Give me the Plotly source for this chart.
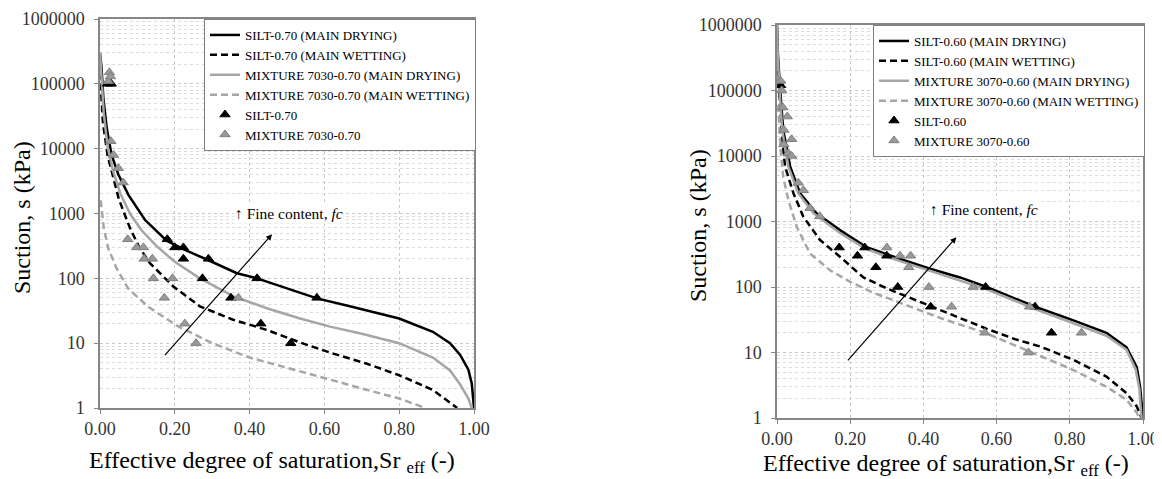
import numpy as np
import plotly.graph_objects as go

FONT = "Liberation Serif, Times New Roman, serif"
BLACK = "#000000"
GRAY = "#a6a6a6"

# ---- left chart: SILT-0.70 / MIXTURE 7030-0.70 ----
SILT70_DRY_SR = [0.0, 0.004, 0.009, 0.018, 0.031, 0.049, 0.076, 0.12, 0.178, 0.23, 0.29, 0.366,
                 0.42, 0.50, 0.58, 0.668, 0.80, 0.89, 0.936, 0.963, 0.985, 0.994, 0.998, 1.0]
SILT70_DRY_S = [300000, 180000, 60000, 20800, 8000, 4000, 1940, 800, 380, 270, 190, 120,
                100, 70, 49, 37, 24, 15, 10, 6.6, 3.9, 2.4, 1.5, 1.0]

SILT70_WET_SR = [0.0, 0.008, 0.02, 0.035, 0.05, 0.065, 0.08, 0.105, 0.134, 0.196, 0.267, 0.356,
                 0.446, 0.53, 0.62, 0.71, 0.80, 0.89, 0.955]
SILT70_WET_S = [150000, 25000, 8000, 3500, 1700, 1000, 600, 300, 170, 75, 37, 23,
                16, 10.5, 7, 4.9, 3.2, 1.9, 1.0]

MIX7030_DRY_SR = [0.0, 0.004, 0.01, 0.02, 0.035, 0.055, 0.08, 0.11, 0.15, 0.20, 0.267, 0.36,
                  0.45, 0.535, 0.615, 0.70, 0.80, 0.89, 0.936, 0.963, 0.985, 0.994]
MIX7030_DRY_S = [300000, 110000, 35000, 11000, 4500, 2000, 1000, 560, 320, 180, 100, 52,
                 34, 24, 18, 14, 10, 6, 3.8, 2.3, 1.4, 1.0]

MIX7030_WET_SR = [0.002, 0.01, 0.022, 0.045, 0.075, 0.13, 0.21, 0.30, 0.40, 0.50, 0.60, 0.70, 0.80, 0.87]
MIX7030_WET_S = [1600, 600, 290, 140, 70, 36, 18, 10, 6, 4.2, 2.9, 2.0, 1.4, 1.0]

SILT70_PTS_SR = [0.02, 0.03, 0.18, 0.20, 0.223, 0.223, 0.29, 0.274, 0.42, 0.35, 0.58, 0.43, 0.51]
SILT70_PTS_S = [100000, 100000, 400, 300, 300, 200, 200, 100, 100, 50, 50, 20, 10]

MIX7030_PTS_SR = [0.022, 0.025, 0.028, 0.029, 0.036, 0.049, 0.062, 0.074, 0.098, 0.116, 0.118,
                  0.14, 0.143, 0.194, 0.172, 0.37, 0.227, 0.257]
MIX7030_PTS_S = [110000, 150000, 130000, 13000, 8000, 5000, 3000, 400, 300, 300, 200,
                 200, 100, 100, 50, 50, 20, 10]

# ---- right chart: SILT-0.60 / MIXTURE 3070-0.60 ----
SILT60_DRY_SR = [0.0, 0.002, 0.008, 0.017, 0.036, 0.063, 0.108, 0.175, 0.243, 0.304, 0.345, 0.418,
                 0.50, 0.573, 0.64, 0.705, 0.81, 0.90, 0.955, 0.983, 0.992, 0.997, 1.0]
SILT60_DRY_S = [1000000, 400000, 114000, 25000, 6900, 2700, 1330, 720, 410, 307, 258, 190,
                140, 100, 70, 50, 31, 20, 12, 6, 3, 1.5, 1.0]

SILT60_WET_SR = [0.003, 0.012, 0.022, 0.045, 0.072, 0.117, 0.172, 0.236, 0.30, 0.345, 0.427,
                 0.50, 0.573, 0.65, 0.72, 0.81, 0.90, 0.955, 0.983, 0.996]
SILT60_WET_S = [200000, 25000, 6900, 2700, 1180, 525, 290, 140, 95, 75, 50,
                34, 23, 16, 12.3, 7.7, 4.3, 2.4, 1.5, 1.0]

MIX3070_DRY_SR = [0.0, 0.002, 0.007, 0.014, 0.031, 0.058, 0.10, 0.17, 0.24, 0.30, 0.345, 0.418,
                  0.50, 0.573, 0.64, 0.705, 0.81, 0.90, 0.955, 0.98, 0.99, 0.996]
MIX3070_DRY_S = [1000000, 350000, 100000, 25000, 6900, 2700, 1330, 680, 390, 290, 240, 175,
                 125, 92, 65, 46, 28, 18, 11, 5.5, 2.8, 1.0]

MIX3070_WET_SR = [0.003, 0.01, 0.017, 0.031, 0.054, 0.09, 0.145, 0.20, 0.263, 0.354, 0.45,
                  0.568, 0.687, 0.81, 0.90, 0.955, 0.983, 0.99]
MIX3070_WET_S = [60000, 12000, 4800, 2130, 830, 325, 180, 120, 82, 52, 33,
                 20, 10.5, 5.4, 3.0, 1.9, 1.2, 1.0]

SILT60_PTS_SR = [0.01, 0.17, 0.22, 0.24, 0.30, 0.27, 0.33, 0.42, 0.57, 0.705, 0.75]
SILT60_PTS_S = [120000, 400, 300, 400, 300, 200, 100, 50, 100, 50, 20]

MIX3070_PTS_SR = [0.0, 0.01, 0.013, 0.016, 0.028, 0.019, 0.04, 0.019, 0.031, 0.04, 0.058, 0.072,
                  0.09, 0.117, 0.30, 0.336, 0.365, 0.36, 0.415, 0.536, 0.477, 0.69, 0.568, 0.687, 0.832]
MIX3070_PTS_S = [150000, 140000, 100000, 55000, 40000, 25000, 18000, 15000, 11000, 10000, 3900, 3000,
                 1600, 1200, 400, 300, 300, 200, 100, 100, 50, 50, 20, 10, 20]

X_TICKS = [0.0, 0.2, 0.4, 0.6, 0.8, 1.0]
Y_TICKS = [1, 10, 100, 1000, 10000, 100000, 1000000]
Y_MINOR = [m * 10 ** k for k in range(6) for m in range(2, 10)]

# the page body has an 8px margin, so the figure is drawn 8px smaller and everything shifted
PAD = 8
W, H = 1162 - PAD, 479 - PAD


def px(x):
    return (x - PAD) / W


def py(y):
    return 1 - (y - PAD) / H


fig = go.Figure()


def add_curve(x, y, name, color, dash, xa, ya, legend):
    fig.add_trace(go.Scatter(x=x, y=y, mode="lines", name=name, xaxis=xa, yaxis=ya, legend=legend,
                             line=dict(color=color, width=2.5, dash=dash)))


def add_points(x, y, name, color, edge, xa, ya, legend):
    fig.add_trace(go.Scatter(x=x, y=y, mode="markers", name=name, xaxis=xa, yaxis=ya, legend=legend,
                             marker=dict(symbol="triangle-up", size=9, color=color,
                                         line=dict(color=edge, width=1))))


DASH = "7px,4px"
add_curve(SILT70_DRY_SR, SILT70_DRY_S, "SILT-0.70 (MAIN DRYING)", BLACK, "solid", "x", "y", "legend")
add_curve(SILT70_WET_SR, SILT70_WET_S, "SILT-0.70 (MAIN WETTING)", BLACK, DASH, "x", "y", "legend")
add_curve(MIX7030_DRY_SR, MIX7030_DRY_S, "MIXTURE 7030-0.70 (MAIN DRYING)", GRAY, "solid", "x", "y", "legend")
add_curve(MIX7030_WET_SR, MIX7030_WET_S, "MIXTURE 7030-0.70 (MAIN WETTING)", GRAY, DASH, "x", "y", "legend")
add_points(SILT70_PTS_SR, SILT70_PTS_S, "SILT-0.70", BLACK, BLACK, "x", "y", "legend")
add_points(MIX7030_PTS_SR, MIX7030_PTS_S, "MIXTURE 7030-0.70", "#999999", "#7f7f7f", "x", "y", "legend")

add_curve(SILT60_DRY_SR, SILT60_DRY_S, "SILT-0.60 (MAIN DRYING)", BLACK, "solid", "x2", "y2", "legend2")
add_curve(SILT60_WET_SR, SILT60_WET_S, "SILT-0.60 (MAIN WETTING)", BLACK, DASH, "x2", "y2", "legend2")
add_curve(MIX3070_DRY_SR, MIX3070_DRY_S, "MIXTURE 3070-0.60 (MAIN DRYING)", GRAY, "solid", "x2", "y2", "legend2")
add_curve(MIX3070_WET_SR, MIX3070_WET_S, "MIXTURE 3070-0.60 (MAIN WETTING)", GRAY, DASH, "x2", "y2", "legend2")
add_points(SILT60_PTS_SR, SILT60_PTS_S, "SILT-0.60", BLACK, BLACK, "x2", "y2", "legend2")
add_points(MIX3070_PTS_SR, MIX3070_PTS_S, "MIXTURE 3070-0.60", "#999999", "#7f7f7f", "x2", "y2", "legend2")

tick_font = dict(family=FONT, size=18, color="#333333")
title_font = dict(family=FONT, size=24, color="black")

xaxis_style = dict(range=[0, 1], tickvals=X_TICKS, ticktext=[f"{v:.2f}" for v in X_TICKS],
                   showgrid=True, gridcolor="#c8c8c8", griddash="dot", gridwidth=1,
                   linecolor="#868686", linewidth=1.5, mirror=True, ticks="outside", ticklen=4,
                   tickcolor="#868686", tickfont=tick_font, zeroline=False, automargin=False)
yaxis_style = dict(type="log", range=[0, 6], tickvals=Y_TICKS, ticktext=[str(v) for v in Y_TICKS],
                   showgrid=True, gridcolor="#c8c8c8", griddash="dot", gridwidth=1,
                   minor=dict(tickvals=Y_MINOR, showgrid=True, gridcolor="#dcdcdc", griddash="dot", ticks=""),
                   linecolor="#868686", linewidth=1.5, mirror=True, ticks="outside", ticklen=4,
                   tickcolor="#868686", tickfont=tick_font, ticklabelstandoff=6, automargin=False)

legend_style = dict(xanchor="right", yanchor="top", bgcolor="white", bordercolor="#7f7f7f", borderwidth=1,
                    font=dict(family=FONT, size=13, color="black"), itemwidth=30, tracegroupgap=0)

fig.update_layout(
    width=W, height=H, margin=dict(l=0, r=0, t=0, b=0, autoexpand=False),
    plot_bgcolor="white", paper_bgcolor="white",
    xaxis=dict(domain=[px(100), px(474)], anchor="y", **xaxis_style),
    yaxis=dict(domain=[py(408), py(19)], anchor="x", **yaxis_style),
    xaxis2=dict(domain=[px(777), px(1143)], anchor="y2", **xaxis_style),
    yaxis2=dict(domain=[py(418), py(25)], anchor="x2", **yaxis_style),
    legend=dict(x=px(476), y=py(19), **legend_style),
    legend2=dict(x=px(1145), y=py(25), **legend_style),
)

# axis titles
for xc, yc in [(22, 218), (698, 226)]:
    fig.add_annotation(text="Suction, s (kPa)", xref="paper", yref="paper", x=px(xc), y=py(yc),
                       xanchor="center", yanchor="middle", textangle=-90, showarrow=False, font=title_font)
for xc, yc in [(272, 462), (946, 465)]:
    fig.add_annotation(text="Effective degree of saturation,Sr <sub>eff</sub> (-)", xref="paper", yref="paper",
                       x=px(xc), y=py(yc), xanchor="center", yanchor="middle", showarrow=False, font=title_font)

# fine-content arrows and labels
for xa, ya, x0, s0, x1, s1, tx, ts in [("x", "y", 0.17, 6.2, 0.46, 480, 0.356, 1000),
                                       ("x2", "y2", 0.19, 7.2, 0.49, 575, 0.413, 1500)]:
    fig.add_annotation(x=x1, y=np.log10(s1), ax=x0, ay=np.log10(s0), xref=xa, yref=ya, axref=xa, ayref=ya,
                       showarrow=True, arrowhead=2, arrowsize=1, arrowwidth=1.2, arrowcolor="black", text="")
    fig.add_annotation(x=tx, y=np.log10(ts), xref=xa, yref=ya, xanchor="left", showarrow=False,
                       text="↑ Fine content, <i>fc</i>", bgcolor="white",
                       font=dict(family=FONT, size=15.5, color="black"))

fig.write_html("out.html")
